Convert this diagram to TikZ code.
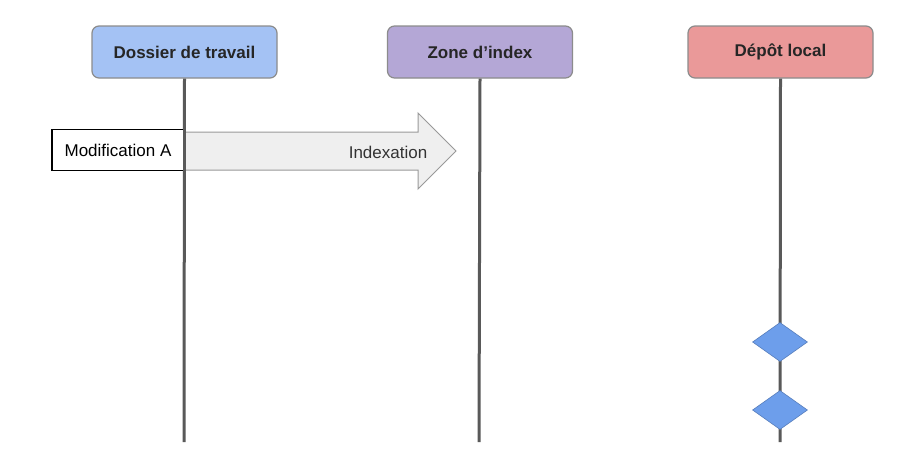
\documentclass[tikz,border=0pt]{standalone}
\usepackage{fontspec}
\setmainfont{Liberation Sans}
\usetikzlibrary{shapes.geometric}
\definecolor{bluebox}{HTML}{A4C2F4}
\definecolor{purplebox}{HTML}{B4A7D6}
\definecolor{redbox}{HTML}{EA9999}
\definecolor{diam}{HTML}{6D9EEB}
\definecolor{lifeline}{HTML}{595959}
\definecolor{arrowfill}{HTML}{EFEFEF}
\tikzset{
  header/.style={draw=black!45, line width=1.2pt, rounded corners=7pt, minimum width=185pt, minimum height=52pt, inner sep=0pt, font=\fontsize{17}{20}\selectfont\bfseries, text=black!85},
  life/.style={draw=lifeline, line width=3pt},
  commit/.style={diamond, aspect=1.4, fill=diam, draw=diam!80!black, line width=0.6pt, minimum width=55pt, minimum height=39pt, inner sep=0pt},
  modbox/.style={draw=black, line width=1.5pt, fill=white, minimum width=132pt, minimum height=41pt, inner sep=0pt, font=\fontsize{17}{20}\selectfont}
}
\begin{document}
\begin{tikzpicture}[x=1pt,y=-1pt]
\useasboundingbox[fill=white] (0,0) rectangle (907,458);
\node[header, fill=bluebox] (dt) at (184.5,52) {Dossier de travail};
\node[header, fill=purplebox] (zi) at (480,52) {Zone d’index};
\node[header, fill=redbox] (dl) at (780.5,52) {Dépôt local};
\coordinate (dtend) at (184,442);
\coordinate (ziend) at (479,442);
\coordinate (dlend) at (780,442);
% arrow
\draw[black!40, line width=1pt, fill=arrowfill] (184,132) -- (418,132) -- (418,113) -- (456,151) -- (418,189) -- (418,170) -- (184,170) -- cycle;
\node[font=\fontsize{17}{20}\selectfont, text=black!80] (idx) at (388,152) {Indexation};
\draw[life] (dt.south) -- (dtend);
\draw[life] (zi.south) -- (ziend);
\draw[life] (dl.south) -- (dlend);
\node[modbox] (mod) at (118,150) {Modification A};
\draw[life] (184,128) -- (184,172);
\node[commit] (c1) at (780,342) {};
\node[commit] (c2) at (780,410) {};
\end{tikzpicture}
\end{document}
